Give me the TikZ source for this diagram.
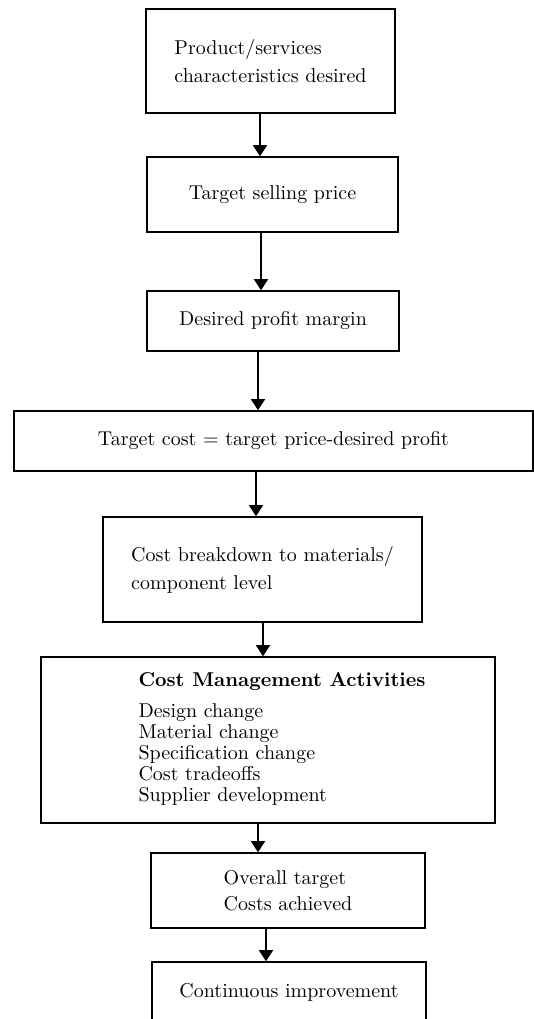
\documentclass[tikz,border=0pt]{standalone}
\usepackage{amsmath}
\usepackage{tikz}
\usetikzlibrary{arrows.meta}

\begin{document}
\begin{tikzpicture}[x=0.5pt,y=-0.5pt,
    box/.style={draw,line width=0.8pt,inner sep=0pt,align=center,
                font=\fontsize{10}{14}\selectfont},
    arr/.style={line width=0.9pt,-{Triangle[length=5.5pt,width=7pt]}}
  ]
    \clip (0,0) rectangle (534,1019);
    \node[box,align=left,minimum width=124.5pt,minimum height=52pt] (prod) at (270.5,61) {Product/services\\characteristics desired};
    \node[box,minimum width=125.5pt,minimum height=37.5pt] (price) at (272.5,194.5) {Target selling price};
    \node[box,minimum width=126pt,minimum height=30pt] (margin) at (273,321) {Desired profit margin};
    \node[box,minimum width=259.5pt,minimum height=30pt] (tcost) at (273.5,441) {Target cost $=$ target price-desired profit};
    \node[box,align=left,minimum width=159.5pt,minimum height=52.5pt] (breakdown) at (262.5,569.5) {Cost breakdown to materials/\\component level};
    \node[box,minimum width=227pt,minimum height=83pt] (activities) at (268,740) {\hspace*{14pt}\renewcommand{\arraystretch}{0.75}%
      \begin{tabular}{@{}l@{}}\textbf{Cost Management Activities}\\[5pt]
      Design change\\ Material change\\ Specification change\\ Cost tradeoffs\\ Supplier development\end{tabular}};
    \node[box,align=left,font=\fontsize{10}{13}\selectfont,minimum width=137pt,minimum height=37.5pt] (achieved) at (288,890.5) {Overall target\\Costs achieved};
    \node[box,minimum width=137pt,minimum height=30pt] (improve) at (289,992) {Continuous improvement};
    \foreach \a/\b/\x in {prod/price/260,price/margin/261,margin/tcost/258,tcost/breakdown/256,
                          breakdown/activities/263,activities/achieved/258,achieved/improve/266}
      \draw[arr] (\x,0 |- \a.south) -- (\x,0 |- \b.north);
  \end{tikzpicture}
\end{document}
